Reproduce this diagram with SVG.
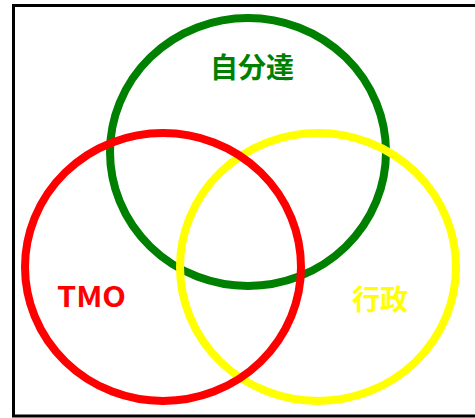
<svg xmlns="http://www.w3.org/2000/svg" width="475" height="418" viewBox="0 0 475 418">
<style>
.c{fill:none;stroke-width:8}
.t{font-family:"Noto Sans CJK JP","Liberation Sans",sans-serif;font-weight:bold;font-size:28px;text-anchor:middle}
</style>
<rect x="0" y="0" width="475" height="418" fill="#fff"/>
<rect x="13.5" y="5.5" width="470" height="410.5" fill="none" stroke="#000" stroke-width="3"/>
<g id="jibuntachi">
<ellipse class="c" cx="248" cy="152" rx="138" ry="134" stroke="#008000"/>
<text class="t" x="252" y="78" fill="#008000">自分達</text>
</g>
<g id="gyousei">
<ellipse class="c" cx="318" cy="267" rx="138" ry="134" stroke="#ffff00"/>
<text class="t" x="380" y="310" fill="#ffff00">行政</text>
</g>
<g id="tmo">
<ellipse class="c" cx="163" cy="267" rx="138" ry="134" stroke="#ff0000"/>
<text class="t" x="57" y="306.5" fill="#ff0000" style="text-anchor:start" textLength="69" lengthAdjust="spacingAndGlyphs">TMO</text>
</g>
<g id="connectors"></g>
</svg>
